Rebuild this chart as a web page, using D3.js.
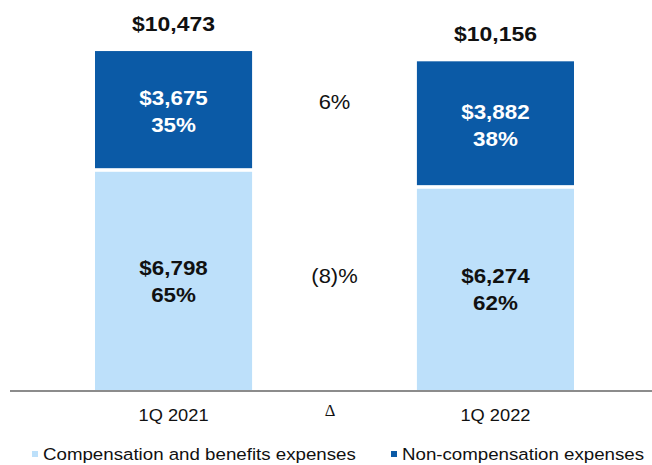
<!DOCTYPE html>
<html>
<head>
<meta charset="utf-8">
<script src="https://cdn.jsdelivr.net/npm/d3@7"></script>
<style>
  html, body { margin: 0; padding: 0; background: #fff; }
  svg { display: block; font-family: "Liberation Sans", Arial, sans-serif; }
</style>
</head>
<body>
<svg id="chart" width="652" height="465"></svg>
<script>
// Quarterly expense breakdown ($ millions)
const periods = ["1Q 2021", "1Q 2022"];
const slots = ["1Q 2021", "\u0394", "1Q 2022"];
const compensation = [6798, 6274];
const nonCompensation = [3675, 3882];
const totals = [10473, 10156];
const compShare = ["65%", "62%"];
const nonCompShare = ["35%", "38%"];
const deltaLabels = ["6%", "(8)%"];   // non-comp change, comp change
const seriesNames = ["Compensation and benefits expenses", "Non-compensation expenses"];

const lightBlue = "#bde0fa";
const darkBlue = "#0b5aa6";
const ink = "#111";
const sx = 1.12;   // slightly widened lettering

const svg = d3.select("#chart");
const baseY = 390;

const x = d3.scaleBand().domain(slots).range([95, 574]).paddingInner(0.024).paddingOuter(0);
const y = d3.scaleLinear().domain([0, 11000]).range([baseY, 34]);
const fmt = d3.format("$,");
const gap = 1.8;
const cx = key => x(key) + x.bandwidth() / 2;

// text helper: anchored at (px, py), widened horizontally
function label(parent, px, py, str, size, opts = {}) {
  return parent.append("text")
    .attr("transform", `translate(${px},${py}) scale(${sx},1)`)
    .attr("text-anchor", opts.anchor || "middle")
    .attr("font-size", size)
    .attr("font-weight", opts.bold ? "bold" : "normal")
    .attr("font-family", opts.family || null)
    .attr("fill", opts.fill || ink)
    .text(str);
}

const data = periods.map((p, i) => ({
  period: p,
  comp: compensation[i],
  nonComp: nonCompensation[i],
  total: totals[i],
  compShare: compShare[i],
  nonCompShare: nonCompShare[i]
}));

const gBars = svg.append("g");

// lower segment: compensation
gBars.selectAll("rect.comp").data(data).join("rect")
  .attr("class", "comp")
  .attr("x", d => x(d.period))
  .attr("width", x.bandwidth())
  .attr("y", d => y(d.comp) + gap)
  .attr("height", d => baseY - y(d.comp) - gap)
  .attr("fill", lightBlue);

// upper segment: non-compensation
gBars.selectAll("rect.noncomp").data(data).join("rect")
  .attr("class", "noncomp")
  .attr("x", d => x(d.period))
  .attr("width", x.bandwidth())
  .attr("y", d => y(d.comp + d.nonComp))
  .attr("height", d => y(d.comp) - y(d.comp + d.nonComp) - gap)
  .attr("fill", darkBlue);

const gLabels = svg.append("g");
data.forEach(d => {
  const c = cx(d.period);
  const midComp = (y(d.comp) + baseY) / 2;
  const midNon = (y(d.comp + d.nonComp) + y(d.comp)) / 2;
  label(gLabels, c, midComp - 5, fmt(d.comp), 20, { bold: true });
  label(gLabels, c, midComp + 22, d.compShare, 20, { bold: true });
  label(gLabels, c, midNon - 5.5, fmt(d.nonComp), 20, { bold: true, fill: "#fff" });
  label(gLabels, c, midNon + 21.5, d.nonCompShare, 20, { bold: true, fill: "#fff" });
  label(gLabels, c, y(d.total) - 20, fmt(d.total), 20.5, { bold: true });
});

// change column
const dcx = cx("\u0394");
label(gLabels, dcx, 109, deltaLabels[0], 19.6);
label(gLabels, dcx, 283, deltaLabels[1], 19.6);

// baseline
svg.append("line")
  .attr("x1", 10).attr("x2", 652)
  .attr("y1", baseY + 1).attr("y2", baseY + 1)
  .attr("stroke", "#8c8c8c").attr("stroke-width", 2);

// category axis
const axis = svg.append("g")
  .attr("transform", `translate(0,${baseY + 1})`)
  .call(d3.axisBottom(x).tickSize(0));
axis.select(".domain").remove();
axis.selectAll(".tick text")
  .attr("y", 30).attr("dy", 0)
  .attr("transform", `scale(${sx},1)`)
  .attr("font-family", "'Liberation Sans', Arial, sans-serif")
  .attr("font-size", 16.3)
  .attr("fill", ink);
axis.selectAll(".tick").filter(d => d === "\u0394").select("text")
  .attr("y", 24.5).attr("x", -4.5)
  .attr("transform", null)
  .attr("font-family", "'Liberation Serif', 'Times New Roman', serif")
  .attr("font-size", 16.5);

// legend
const legendItems = [
  { name: seriesNames[0], color: lightBlue, x: 32 },
  { name: seriesNames[1], color: darkBlue, x: 391 }
];
const lg = svg.append("g").selectAll("g").data(legendItems).join("g")
  .attr("transform", d => `translate(${d.x},0)`);
lg.append("rect").attr("x", 0).attr("y", 451).attr("width", 6).attr("height", 6)
  .attr("fill", d => d.color);
lg.each(function(d) {
  label(d3.select(this), 11, 460, d.name, 16.7, { anchor: "start" });
});
</script>
</body>
</html>
